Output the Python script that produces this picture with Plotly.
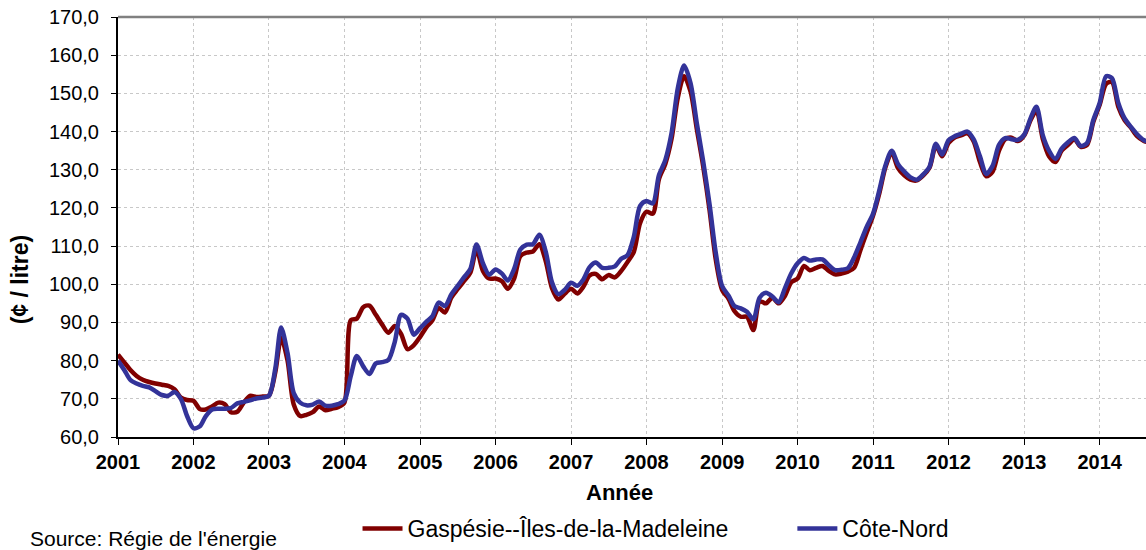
import pandas as pd
import plotly.graph_objects as go

# Monthly prices (¢ / litre), January 2001 to September 2014
gaspesie = [
    # 2001
    81.6, 79.5, 77.6, 76.0, 75.0, 74.4, 74.0, 73.7, 73.4, 72.5, 70.3, 69.7,
    # 2002
    69.5, 67.3, 67.2, 68.0, 69.0, 68.6, 66.5, 66.6, 69.0, 70.8, 70.5, 70.6,
    # 2003
    70.8, 77.0, 86.0, 80.0, 68.5, 65.5, 65.8, 66.5, 68.0, 67.0, 67.4, 67.8,
    # 2004
    69.0, 90.6, 91.0, 94.0, 94.4, 92.0, 89.5, 87.3, 89.1, 87.0, 83.0, 84.0,
    # 2005
    86.2, 88.8, 90.5, 93.8, 92.6, 96.5, 98.7, 100.8, 103.0, 109.2, 103.5, 101.5,
    # 2006
    101.5, 100.8, 98.8, 101.5, 107.4, 108.3, 108.6, 110.5, 106.0, 99.0, 96.0, 97.5,
    # 2007
    98.8, 97.6, 99.3, 102.3, 102.7, 101.3, 102.4, 101.8, 103.5, 105.8, 108.5, 116.0,
    # 2008
    119.0, 118.5, 127.5, 131.5, 138.0, 149.0, 154.5, 150.5, 140.5, 131.0, 119.5, 106.5,
    # 2009
    98.5, 96.2, 93.0, 91.5, 91.5, 88.0, 95.5, 95.0, 96.5, 95.0, 97.0, 100.5,
    # 2010
    101.5, 104.8, 103.7, 104.3, 104.8, 103.5, 102.6, 102.8, 103.3, 104.3, 109.0, 113.5,
    # 2011
    118.0, 124.0, 130.5, 134.5, 130.5, 128.5, 127.4, 127.2, 128.5, 130.5, 136.3, 133.5,
    # 2012
    137.0, 138.5, 139.0, 139.5, 137.5, 132.0, 128.3, 129.5, 135.0, 138.0, 138.4, 137.5,
    # 2013
    139.0, 143.0, 145.5, 138.0, 133.5, 132.0, 135.0, 136.5, 138.0, 136.0, 136.5, 142.5,
    # 2014
    147.0, 152.5, 153.0, 146.5, 143.0, 141.0, 138.8, 137.6, 137.0,
]

cote_nord = [
    # 2001
    80.0, 77.5, 75.0, 74.0, 73.4, 73.0, 72.0, 71.0, 70.8, 71.8, 70.0, 65.5,
    # 2002
    62.3, 62.8, 65.4, 67.2, 67.4, 67.4, 67.6, 68.8, 69.2, 69.6, 70.1, 70.3,
    # 2003
    70.8, 78.0, 88.7, 82.0, 71.5, 69.0, 68.3, 68.5, 69.3, 68.2, 68.2, 68.6,
    # 2004
    69.5, 76.0, 81.2, 78.5, 76.5, 79.3, 79.6, 80.2, 85.0, 92.0, 91.0, 86.8,
    # 2005
    88.5, 90.2, 91.6, 95.2, 94.3, 97.3, 99.5, 101.8, 104.0, 110.4, 105.5, 102.5,
    # 2006
    103.9, 102.8, 101.0, 104.0, 109.1, 110.4, 110.5, 113.0, 108.5, 100.5, 97.4, 98.5,
    # 2007
    100.4, 99.6, 101.2, 104.5, 105.7, 104.3, 104.3, 104.7, 106.7, 107.6, 112.5, 120.5,
    # 2008
    121.8, 121.2, 128.5, 132.5, 139.5, 151.5, 157.3, 152.7, 142.0, 132.3, 121.0, 108.3,
    # 2009
    99.5, 97.0, 94.3, 93.7, 92.8, 90.8, 96.5, 97.8, 96.8, 95.3, 99.0, 102.8,
    # 2010
    105.5, 106.9, 106.2, 106.5, 106.5, 105.0, 103.7, 103.8, 104.2, 107.0, 111.0, 115.0,
    # 2011
    118.5, 124.8, 131.0, 135.0, 131.5, 129.5, 128.0, 127.4, 128.8, 130.8, 136.8, 134.0,
    # 2012
    137.7, 138.8, 139.4, 140.0, 138.0, 133.5, 128.9, 131.0, 136.5, 138.3, 138.0, 137.8,
    # 2013
    139.2, 143.5, 146.5, 139.0, 135.0, 132.8, 135.5, 137.2, 138.3, 136.2, 137.0, 143.0,
    # 2014
    147.5, 154.5, 154.0, 147.5, 143.5, 141.2, 139.3, 137.8, 137.2,
]

dates = pd.date_range("2001-01-01", periods=len(gaspesie), freq="MS")
year_ticks = pd.date_range("2001-01-01", "2014-01-01", freq="YS")
y_ticks = [60, 70, 80, 90, 100, 110, 120, 130, 140, 150, 160, 170]

series_names = ["Gaspésie--Îles-de-la-Madeleine", "Côte-Nord"]
series_colors = ["#800000", "#333399"]
series_legends = ["legend", "legend2"]

fig = go.Figure()
for name, vals, col, lg in zip(series_names, [gaspesie, cote_nord], series_colors, series_legends):
    fig.add_trace(go.Scatter(
        x=dates, y=vals, name=name, mode="lines", legend=lg,
        line=dict(color=col, width=4.5, shape="spline", smoothing=0.8),
    ))

legend_common = dict(
    orientation="h", xanchor="left", y=-0.218, yanchor="middle",
    font=dict(size=23, color="black"), bgcolor="rgba(0,0,0,0)", itemwidth=40,
)

fig.update_layout(
    width=1146, height=550,
    margin=dict(l=118, r=0, t=17, b=112),
    paper_bgcolor="white", plot_bgcolor="white",
    separators=", ",
    font=dict(family="Liberation Sans, Arial, sans-serif", color="black"),
    showlegend=True,
    legend=dict(x=0.233, **legend_common),
    legend2=dict(x=0.656, **legend_common),
)

fig.update_xaxes(
    type="date",
    range=["2001-01-01", "2014-08-13"],
    tickvals=year_ticks, tickformat="%Y",
    tickfont=dict(size=20, family="Liberation Sans, Arial, sans-serif", color="black", weight="bold"),
    ticks="outside", ticklen=6, tickwidth=1, tickcolor="black",
    showline=True, linecolor="black", linewidth=2,
    showgrid=True, gridcolor="#c8c8c8", griddash="dot", gridwidth=1,
    zeroline=False,
)
fig.update_yaxes(
    range=[60, 170],
    tickvals=y_ticks, tickformat=".1f",
    tickfont=dict(size=20, color="black"),
    ticks="outside", ticklen=5, tickwidth=1, tickcolor="black",
    ticklabelstandoff=8,
    showline=True, linecolor="black", linewidth=2,
    showgrid=True, gridcolor="#c8c8c8", griddash="dot", gridwidth=1,
    zeroline=False,
)

# top frame line
fig.add_shape(type="line", xref="paper", yref="paper", x0=0, x1=1, y0=1, y1=1,
              line=dict(color="#808080", width=2.5))

fig.add_annotation(text="<b>Année</b>", xref="paper", yref="paper",
                   x=0.488, y=-0.133, xanchor="center", yanchor="middle",
                   showarrow=False, font=dict(size=22, color="black"))
fig.add_annotation(text="<b>(¢ / litre)</b>", xref="paper", yref="paper",
                   x=-0.0953, y=0.373, xanchor="center", yanchor="middle",
                   textangle=-90, showarrow=False, font=dict(size=23, color="black"))
fig.add_annotation(text="Source: Régie de l'énergie", xref="paper", yref="paper",
                   x=-0.0875, y=-0.242, xanchor="left", yanchor="middle",
                   showarrow=False, font=dict(size=21, color="black"))

fig.write_html("out.html", config={"displayModeBar": False},
               post_script="document.body.style.margin='0';document.body.style.overflow='hidden';")
